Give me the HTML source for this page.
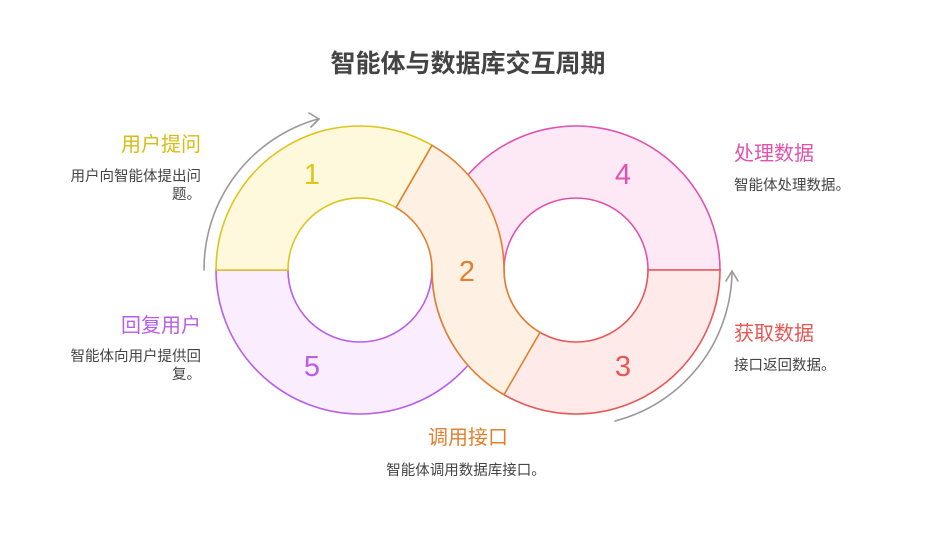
<!DOCTYPE html>
<html><head><meta charset="utf-8"><style>
html,body{margin:0;padding:0;background:#fff;}
svg{display:block;font-family:"Liberation Sans","Noto Sans CJK SC",sans-serif;}
</style></head><body>
<svg width="936" height="558" viewBox="0 0 936 558" xmlns="http://www.w3.org/2000/svg">
<text x="468" y="72" text-anchor="middle" font-size="25" font-weight="bold" fill="#444">智能体与数据库交互周期</text>
<g stroke-width="1.6">
<path d="M216,270 A144,144 0 0 0 504,270 L432,270 A72,72 0 0 1 288,270 Z" fill="#f9edfe" stroke="#b85ee8"/>
<path d="M216,270 A144,144 0 0 1 432,145.3 L396,207.6 A72,72 0 0 0 288,270 Z" fill="#fef9dc" stroke="#dfc41c"/>
<path d="M432,270 A144,144 0 0 1 720,270 L648,270 A72,72 0 0 0 504,270 Z" fill="#fde8f6" stroke="#e052ac"/>
<path d="M720,270 A144,144 0 0 1 432,270 L504,270 A72,72 0 0 0 648,270 Z" fill="#ffeaea" stroke="#e85656"/>
<path d="M432,145.3 A144,144 0 0 1 504,270 A72,72 0 0 0 540,332.4 L504,394.7 A144,144 0 0 1 432,270 A72,72 0 0 0 396,207.6 Z" fill="#fff0e4" stroke="#e0802e"/>
</g>
<g font-size="29" text-anchor="middle">
<text x="312" y="184" fill="#dfc41c">1</text>
<text x="467" y="281" fill="#e0802e">2</text>
<text x="623" y="376" fill="#e85656">3</text>
<text x="623" y="184" fill="#e052ac">4</text>
<text x="312" y="376" fill="#b85ee8">5</text>
</g>
<g fill="none" stroke="#999" stroke-width="1.6" stroke-linecap="round">
<path d="M204,270 A156,156 0 0 1 318,119"/>
<path d="M309,113 L319,119 L311,127"/>
<path d="M732,272 A156,156 0 0 1 615,421"/>
<path d="M726,281 L732,271 L738,281"/>
</g>
<g font-size="20">
<text x="201" y="151" text-anchor="end" fill="#d8bc12">用户提问</text>
<text x="201" y="332" text-anchor="end" fill="#b85ee8">回复用户</text>
<text x="734" y="160" fill="#e052ac">处理数据</text>
<text x="734" y="340" fill="#e85656">获取数据</text>
<text x="468" y="444" text-anchor="middle" fill="#e0802e">调用接口</text>
</g>
<g font-size="14.5" fill="#444">
<text x="201" y="181" text-anchor="end">用户向智能体提出问</text>
<text x="201" y="199" text-anchor="end">题。</text>
<text x="201" y="361" text-anchor="end">智能体向用户提供回</text>
<text x="201" y="379" text-anchor="end">复。</text>
<text x="734" y="190">智能体处理数据。</text>
<text x="734" y="370">接口返回数据。</text>
<text x="466" y="475" text-anchor="middle">智能体调用数据库接口。</text>
</g>
</svg>
</body></html>
